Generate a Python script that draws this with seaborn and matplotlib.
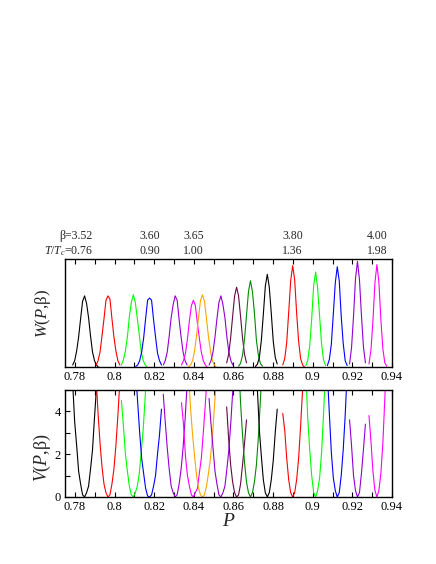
import numpy as np
import pandas as pd
import matplotlib
matplotlib.use("Agg")
import matplotlib.pyplot as plt
from matplotlib.ticker import MultipleLocator, FuncFormatter
import seaborn as sns

# histogram bins, relative to the peak of each run (units of P)
offsets = [-0.007, -0.006, -0.005, -0.004, -0.003, -0.002, -0.001, 0.0,
           0.001, 0.002, 0.003, 0.004, 0.005, 0.006, 0.007]

centers = [0.7849, 0.7967, 0.8095, 0.8177, 0.8306, 0.8398, 0.8444, 0.8537,
           0.8616, 0.8686, 0.8771, 0.8899, 0.9015, 0.9124, 0.9226, 0.9324]

colors = ["black", "#ff0000", "#00ff00", "#0000ff", "#9400d3", "#ff00ff",
          "#ffa500", "#9400d3", "#670748", "#008b00", "black", "#ff0000",
          "#00ff00", "#0000ff", "#9400d3", "#ff00ff"]

nan = np.nan
W_vals = [
    [nan, 0.02, 0.06, 0.15, 0.28, 0.45, 0.61, 0.66, 0.59, 0.46, 0.29, 0.14, 0.06, 0.02, 0.0],
    [nan, 0.02, 0.06, 0.14, 0.29, 0.45, 0.62, 0.66, 0.63, 0.45, 0.28, 0.15, 0.06, 0.02, nan],
    [nan, 0.02, 0.07, 0.15, 0.28, 0.47, 0.60, 0.67, 0.60, 0.45, 0.30, 0.14, 0.06, 0.02, 0.0],
    [0.006, 0.02, 0.06, 0.14, 0.27, 0.45, 0.62, 0.64, 0.62, 0.44, 0.28, 0.13, 0.06, 0.02, nan],
    [nan, 0.02, 0.06, 0.14, 0.29, 0.46, 0.58, 0.66, 0.62, 0.44, 0.28, 0.14, 0.06, 0.02, nan],
    [nan, 0.02, 0.06, 0.13, 0.26, 0.43, 0.57, 0.62, 0.57, 0.41, 0.27, 0.14, 0.06, 0.02, 0.0],
    [0.006, 0.02, 0.06, 0.15, 0.29, 0.46, 0.62, 0.67, 0.61, 0.45, 0.28, 0.15, 0.06, 0.02, 0.0],
    [nan, 0.02, 0.06, 0.14, 0.28, 0.45, 0.60, 0.66, 0.58, 0.46, 0.28, 0.14, 0.06, 0.02, nan],
    [nan, nan, 0.04, 0.12, 0.27, 0.47, 0.66, 0.74, 0.66, 0.47, 0.27, 0.12, 0.04, nan, nan],
    [nan, 0.01, 0.035, 0.11, 0.26, 0.48, 0.70, 0.80, 0.70, 0.50, 0.25, 0.11, 0.035, 0.01, nan],
    [nan, 0.006, 0.027, 0.09, 0.25, 0.49, 0.75, 0.86, 0.74, 0.50, 0.24, 0.09, 0.03, nan, nan],
    [nan, nan, 0.02, 0.08, 0.23, 0.51, 0.80, 0.94, 0.81, 0.50, 0.24, 0.08, 0.02, 0.0, nan],
    [nan, nan, 0.015, 0.06, 0.20, 0.45, 0.76, 0.88, 0.73, 0.47, 0.21, 0.065, 0.015, nan, nan],
    [nan, nan, 0.015, 0.07, 0.21, 0.49, 0.78, 0.93, 0.80, 0.47, 0.22, 0.06, 0.015, nan, nan],
    [nan, nan, nan, 0.03, 0.18, 0.47, 0.82, 0.98, 0.81, 0.48, 0.19, 0.04, nan, nan, nan],
    [nan, nan, nan, 0.03, 0.16, 0.43, 0.78, 0.95, 0.79, 0.44, 0.17, 0.04, 0.008, nan, nan],
]

V_vals = [
    [7.0, 5.3, 3.5, 2.4, 1.2, 0.6, 0.1, 0.0, 0.2, 0.5, 1.3, 2.2, 3.7, 5.1, 7.1],
    [7.4, 5.6, 3.9, 2.5, 1.4, 0.6, 0.2, 0.0, 0.1, 0.6, 1.3, 2.4, 3.8, 5.4, 7.6],
    [nan, 4.5, 3.3, 2.0, 1.2, 0.5, 0.1, 0.0, 0.2, 0.5, 1.1, 2.1, 3.2, 4.7, 6.5],
    [5.8, 4.4, 3.0, 1.8, 1.1, 0.4, 0.05, 0.0, 0.1, 0.5, 1.0, 2.0, 2.9, 4.1, nan],
    [nan, 4.8, 3.5, 2.3, 1.3, 0.5, 0.2, 0.0, 0.1, 0.6, 1.3, 2.3, 3.6, 5.2, 7.0],
    [nan, 4.4, 3.4, 1.9, 1.0, 0.5, 0.1, 0.0, 0.2, 0.4, 1.1, 1.8, 3.0, 4.3, 5.8],
    [5.7, 4.1, 2.9, 1.9, 1.0, 0.4, 0.1, 0.0, 0.1, 0.5, 1.1, 1.8, 2.8, 4.2, 5.5],
    [nan, 4.6, 3.4, 2.3, 1.2, 0.6, 0.1, 0.0, 0.2, 0.5, 1.3, 2.2, 3.5, 5.0, 6.8],
    [nan, nan, 4.2, 2.7, 1.5, 0.7, 0.2, 0.0, 0.1, 0.6, 1.5, 2.5, 3.6, nan, nan],
    [nan, 6.4, 4.4, 2.9, 1.6, 0.7, 0.2, 0.0, 0.2, 0.7, 1.5, 2.8, 4.5, 6.3, nan],
    [nan, 7.2, 5.0, 3.1, 1.9, 0.8, 0.2, 0.0, 0.2, 0.8, 1.7, 3.0, 4.1, nan, nan],
    [nan, nan, 3.9, 3.1, 1.8, 0.8, 0.2, 0.0, 0.2, 0.8, 1.8, 3.3, 5.0, 7.1, nan],
    [nan, nan, 5.9, 3.7, 2.2, 1.0, 0.2, 0.0, 0.3, 0.9, 2.1, 3.9, 6.0, nan, nan],
    [nan, nan, 5.8, 3.9, 2.1, 0.9, 0.3, 0.0, 0.2, 1.0, 2.2, 3.8, 5.9, nan, nan],
    [nan, nan, nan, 3.6, 2.4, 1.0, 0.3, 0.0, 0.2, 1.1, 2.2, 3.4, nan, nan, nan],
    [nan, nan, nan, 3.8, 2.6, 1.2, 0.3, 0.0, 0.3, 1.1, 2.5, 4.6, 7.0, nan, nan],
]

# labelled runs
label_runs = [0, 3, 5, 11, 15]
betas = ["3.52", "3.60", "3.65", "3.80", "4.00"]
ttc = ["0.76", "0.90", "1.00", "1.36", "1.98"]

rows = []
for i, c in enumerate(centers):
    for j, d in enumerate(offsets):
        rows.append({"run": i, "P": c + d, "W": W_vals[i][j], "V": V_vals[i][j]})
df = pd.DataFrame(rows)

sns.set_theme(style="ticks")
plt.rcParams["font.family"] = ["Liberation Serif", "DejaVu Serif"]
plt.rcParams["mathtext.fontset"] = "custom"
plt.rcParams["mathtext.rm"] = "Liberation Serif"
plt.rcParams["mathtext.it"] = "Liberation Serif:italic"

fig = plt.figure(figsize=(4.36, 5.64), dpi=100)
ax1 = fig.add_axes([0.149, 0.349, 0.750, 0.1915])
ax2 = fig.add_axes([0.149, 0.1188, 0.750, 0.190])

for ax, col in [(ax1, "W"), (ax2, "V")]:
    for i in range(len(centers)):
        sub = df[(df.run == i)].dropna(subset=[col])
        sns.lineplot(data=sub, x="P", y=col, color=colors[i], lw=0.8,
                     estimator=None, sort=False, ax=ax, legend=False)
    ax.set_xlim(0.775, 0.94)
    ax.xaxis.set_major_locator(MultipleLocator(0.02))
    ax.xaxis.set_minor_locator(MultipleLocator(0.01))
    ax.xaxis.set_major_formatter(FuncFormatter(lambda v, p: f"{v:g}"))
    ax.tick_params(which="both", direction="in", top=True, right=False,
                   length=3.5, width=0.8, labelsize=9, pad=3, colors="black")
    for s in ax.spines.values():
        s.set_linewidth(1.0)
        s.set_color("black")
    ax.set_xlabel("")

ax1.set_ylim(0, 1)
ax1.set_yticks([])
ax1.set_ylabel("$W$($P$,β)", fontsize=12)
ax1.yaxis.set_label_coords(-0.036, 0.5)

ax2.set_ylim(0, 5)
ax2.yaxis.set_major_locator(MultipleLocator(2))
ax2.yaxis.set_minor_locator(MultipleLocator(1))
ax2.set_ylabel("$V$($P$,β)", fontsize=13)
ax2.yaxis.set_label_coords(-0.036, 0.37)
ax2.set_xlabel("$P$", fontsize=14, labelpad=0)

for k, idx in enumerate(label_runs):
    x = centers[idx]
    if k == 0:
        ax1.annotate("β=" + betas[k], xy=(x, 1.213), xycoords=("data", "axes fraction"),
                     xytext=(6, 0), textcoords="offset points",
                     ha="right", va="center", fontsize=8.5)
        ax1.annotate("$T/T_c$=" + ttc[k], xy=(x, 1.074), xycoords=("data", "axes fraction"),
                     xytext=(6, 0), textcoords="offset points",
                     ha="right", va="center", fontsize=8.5)
    else:
        ax1.annotate(betas[k], xy=(x, 1.213), xycoords=("data", "axes fraction"),
                     ha="center", va="center", fontsize=8.5)
        ax1.annotate(ttc[k], xy=(x, 1.074), xycoords=("data", "axes fraction"),
                     ha="center", va="center", fontsize=8.5)

fig.savefig("out.png", dpi=100)
